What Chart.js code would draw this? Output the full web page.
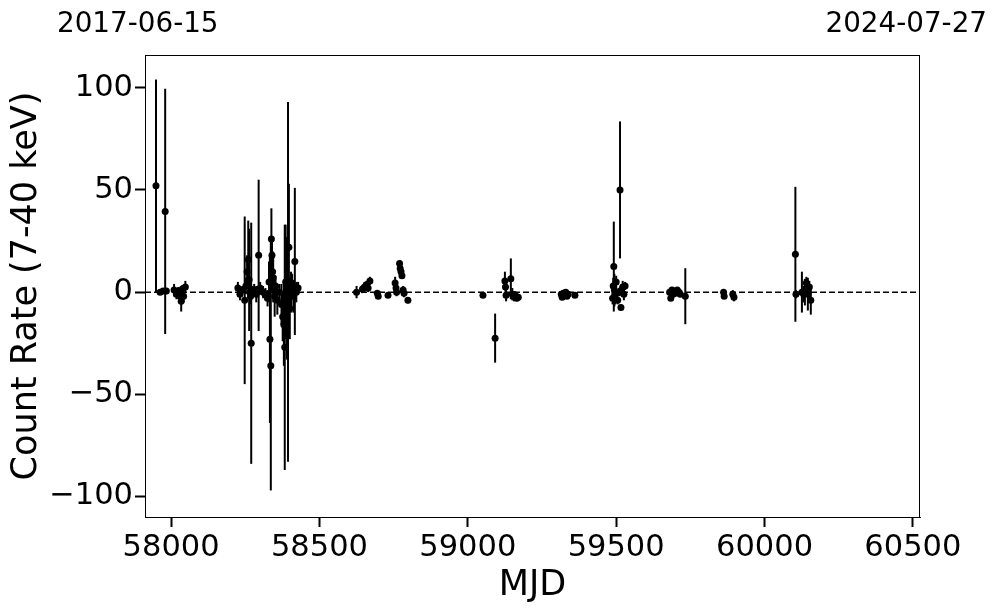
<!DOCTYPE html>
<html>
<head>
<meta charset="utf-8">
<script src="https://cdn.jsdelivr.net/npm/chart.js@4.4.1/dist/chart.umd.min.js"></script>
<style>
  html, body { margin: 0; padding: 0; background: #fff; }
  #wrap { width: 997px; height: 613px; }
</style>
</head>
<body>
<div id="wrap"><canvas id="lc" width="997" height="613"></canvas></div>
<script>
// light curve points: MJD, count rate, 1-sigma error
const mjd = [
  57949, 57963, 57973, 57980, 57984,
  58010, 58018, 58024, 58030, 58034, 58038, 58042, 58048,
  58225, 58232, 58240, 58248, 58252, 58256, 58260, 58263, 58266, 58268, 58270, 58274,
  58280, 58287, 58295, 58300, 58310, 58318, 58325, 58330, 58333, 58336, 58338, 58340,
  58342, 58344, 58346, 58349, 58352, 58358, 58365, 58372, 58376, 58380, 58383, 58386,
  58390, 58394, 58397, 58400, 58404, 58408, 58412, 58417, 58422, 58428,
  58625, 58645, 58652, 58658, 58664, 58670, 58695, 58698, 58731, 58755, 58758, 58760,
  58770, 58772, 58775, 58778, 58782, 58785, 58798,
  59051, 59092, 59125, 59127, 59129, 59145, 59150, 59155, 59160, 59165, 59170,
  59315, 59318, 59322, 59326, 59330, 59334, 59338, 59361,
  59488, 59490, 59492, 59494, 59496, 59500, 59505, 59510, 59513, 59516, 59518, 59522, 59526, 59530,
  59680, 59684, 59688, 59692, 59696, 59700, 59706, 59712, 59716, 59733,
  59862, 59864, 59893, 59897,
  60104, 60106, 60126, 60132, 60136, 60141, 60146, 60151, 60156
];
const rate = [
  52, 0, 0.5, 39.5, 0.5,
  1, -1, 0.5, -2, -4.5, 1.5, -2, 2.5,
  2, -1, 1, -4, 3, 10, 16, 6, 0, -2, -25, 0,
  1, -1, 18, 2, 0, -1, -3, 5, -23, -36, 26, 18,
  10, 7, 2, -2, 3, -4, 0, -6, -12, -16, -27, 5,
  -3, 5, 22, -8, 0, 3, -2, 15, 0, 2,
  0, 1.5, 2.5, 3.5, 2, 5.5, -0.5, -2, -1.5, 4.5, 2, 0,
  14, 11.5, 10, 8, 1, -0.5, -4,
  -1.5, -22.5, 5.5, 2.5, -1.5, 6.5, -1, -2, -1.5, -3, -2.5,
  -1, -2.5, -0.5, -1.5, 0, -2, -1, -1.5,
  -3, 3, 12.5, 1, -1, 5, -4, 0, 50, -7.5, 1, 2.5, -1, 3,
  0, -3, 1, -1, 0.5, -0.5, 1, 0, -1, -2,
  0, -2, -1, -2.5,
  18.5, -1, 0, -1, 0, 4.5, -1, 2.5, -4
];
const rateErr = [
  52, 1, 1, 60, 1.5,
  3, 2.5, 2, 3, 5, 2, 3, 3,
  3, 3, 2, 41, 4, 8, 19, 25, 5, 4, 59, 3,
  3, 4, 37, 3, 3, 3, 4, 10, 41, 61, 15, 8,
  10, 12, 6, 10, 5, 7, 4, 10, 12, 20, 60, 28,
  30, 88, 31, 15, 10, 6, 8, 36, 5, 3,
  3, 2, 2.5, 2, 2, 2, 1, 1, 1, 3, 3, 2,
  1.5, 1.5, 1.5, 1.5, 2, 2, 1.5,
  1, 12, 4.5, 3, 3, 10, 3, 2.5, 2, 1.5, 1.5,
  1, 1, 1, 1, 1, 1, 1, 1,
  3, 4, 22, 8, 5, 3, 2, 2, 33.5, 1.5, 3, 3, 3, 2,
  1.5, 1, 1, 1.5, 1, 1, 1, 1, 1, 13.7,
  1, 1, 2, 2,
  33, 2, 10, 4, 6.5, 3, 8, 3, 7
];

const xTicks = [58000, 58500, 59000, 59500, 60000, 60500];
const yTicks = [-100, -50, 0, 50, 100];
const xRange = [57912, 60524];
const yRange = [-110, 116];
const startDate = '2017-06-15';
const endDate = '2024-07-27';

const FONT = 'DejaVu Sans';

const points = mjd.map((m, i) => ({ x: m, y: rate[i] }));

const errorBars = {
  id: 'errorBars',
  beforeDatasetsDraw(chart) {
    const { ctx, chartArea, scales: { x, y } } = chart;
    ctx.save();
    ctx.beginPath();
    ctx.rect(chartArea.left, chartArea.top, chartArea.right - chartArea.left, chartArea.bottom - chartArea.top);
    ctx.clip();
    ctx.strokeStyle = '#000';
    ctx.lineWidth = 2;
    mjd.forEach((m, i) => {
      const px = x.getPixelForValue(m);
      ctx.beginPath();
      ctx.moveTo(px, y.getPixelForValue(rate[i] - rateErr[i]));
      ctx.lineTo(px, y.getPixelForValue(rate[i] + rateErr[i]));
      ctx.stroke();
    });
    ctx.restore();
  }
};

const frameAndDates = {
  id: 'frameAndDates',
  afterDraw(chart) {
    const { ctx, chartArea } = chart;
    ctx.save();
    ctx.strokeStyle = '#000';
    ctx.lineWidth = 1;
    ctx.strokeRect(chartArea.left + 0.5, chartArea.top + 0.5,
      chartArea.right - chartArea.left - 1, chartArea.bottom - chartArea.top);
    ctx.fillStyle = '#000';
    ctx.font = '27.8px "' + FONT + '"';
    ctx.textBaseline = 'alphabetic';
    ctx.textAlign = 'left';
    ctx.fillText(startDate, 57, 32);
    ctx.textAlign = 'right';
    ctx.fillText(endDate, 987, 32);
    ctx.restore();
  }
};

new Chart(document.getElementById('lc'), {
  type: 'scatter',
  data: {
    datasets: [
      {
        data: points,
        backgroundColor: '#000',
        borderColor: '#000',
        pointRadius: 3.5,
        pointHoverRadius: 3.5,
        borderWidth: 0
      },
      {
        type: 'line',
        data: [{ x: xRange[0], y: 0 }, { x: xRange[1], y: 0 }],
        borderColor: '#000',
        borderWidth: 1.5,
        borderDash: [6, 3],
        pointRadius: 0,
        fill: false
      }
    ]
  },
  options: {
    responsive: false,
    animation: false,
    devicePixelRatio: 1,
    layout: { padding: { top: 55, right: 77, left: 0, bottom: 0 } },
    plugins: { legend: { display: false }, tooltip: { enabled: false } },
    scales: {
      x: {
        type: 'linear',
        min: xRange[0],
        max: xRange[1],
        afterBuildTicks: (s) => { s.ticks = xTicks.map(v => ({ value: v })); },
        afterFit: (s) => { s.height = 96; },
        ticks: {
          color: '#000',
          font: { family: FONT, size: 30.5 },
          padding: 3,
          maxRotation: 0,
          callback: (v) => String(v)
        },
        grid: { drawOnChartArea: false, drawTicks: true, tickLength: 10, tickWidth: 2, tickColor: '#000' },
        border: { color: '#000', width: 1 },
        title: {
          display: true,
          text: 'MJD',
          color: '#000',
          font: { family: FONT, size: 35 },
          padding: { top: 0, bottom: 6 }
        }
      },
      y: {
        min: yRange[0],
        max: yRange[1],
        afterBuildTicks: (s) => { s.ticks = yTicks.map(v => ({ value: v })); },
        afterFit: (s) => { s.width = 145; },
        ticks: {
          color: '#000',
          font: { family: FONT, size: 30.5 },
          padding: 2,
          callback: (v) => String(v).replace('-', '\u2212')
        },
        grid: { drawOnChartArea: false, drawTicks: true, tickLength: 10, tickWidth: 2, tickColor: '#000' },
        border: { color: '#000', width: 1 },
        title: {
          display: true,
          text: 'Count Rate (7-40 keV)',
          color: '#000',
          font: { family: FONT, size: 35 },
          padding: { top: 6, bottom: 0 }
        }
      }
    }
  },
  plugins: [errorBars, frameAndDates]
});
</script>
</body>
</html>
